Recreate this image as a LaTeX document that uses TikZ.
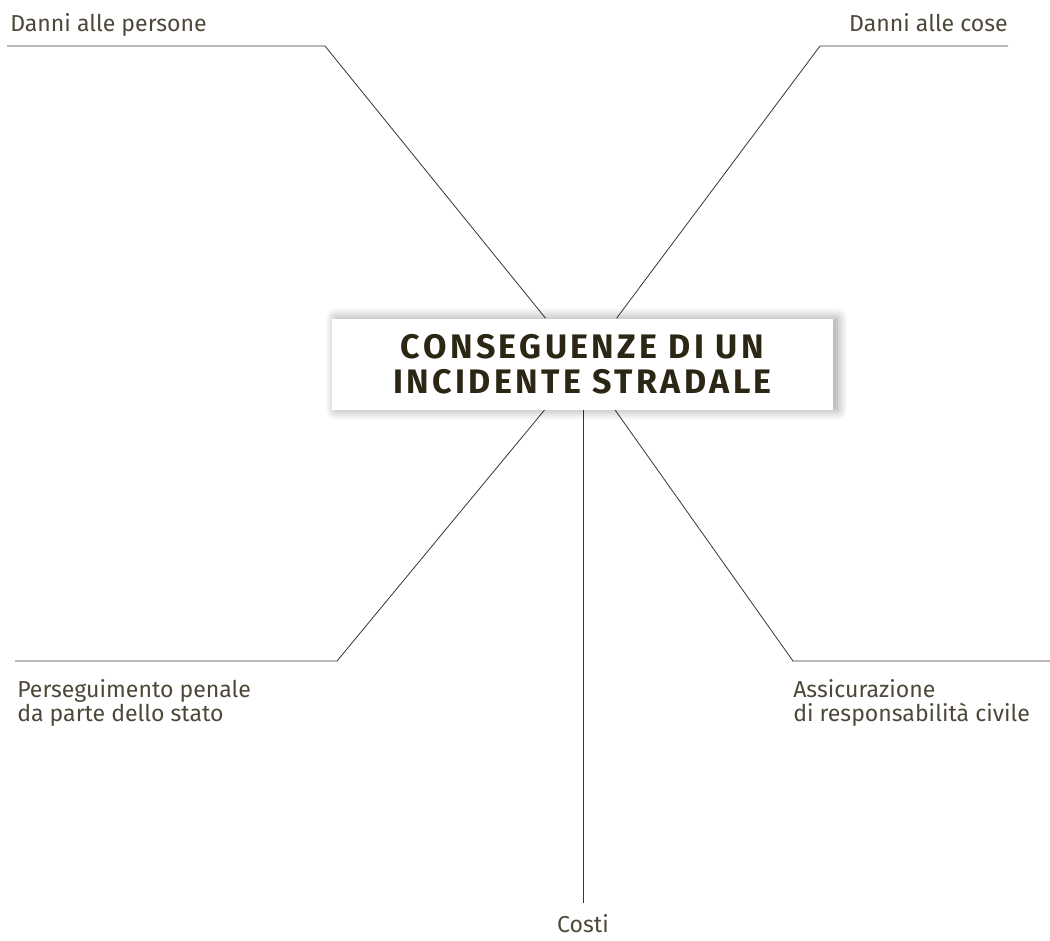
\documentclass[tikz,border=0pt]{standalone}
\usepackage{fontspec}
\setmainfont{Fira Sans}
\newfontfamily\titlefont[LetterSpace=10]{Fira Sans}
\usepackage{tikz}
\usetikzlibrary{shadows.blur,backgrounds}
\definecolor{inkdark}{HTML}{2B2714}
\definecolor{inklabel}{HTML}{4D4839}
\definecolor{inkline}{HTML}{3A3526}

\begin{document}
\begin{tikzpicture}[x=0.75pt, y=-0.75pt,
    branch/.style={draw=inkline, line width=0.6pt},
    leaf/.style={text=inklabel, font=\fontsize{17.3}{18}\selectfont, inner sep=0pt, align=left},
    hub/.style={fill=white, minimum width=375.75pt, minimum height=68.25pt, text=inkdark,
        font=\titlefont\fontsize{25.5}{26.25}\selectfont\bfseries, align=center,
        blur shadow={shadow xshift=3pt, shadow yshift=0pt, shadow blur steps=14, shadow blur radius=8pt, shadow opacity=40}}]
        \useasboundingbox (0,0) rectangle (1050,940);
        \coordinate (p1) at (325,46);
        \coordinate (p2) at (820,46);
        \coordinate (p3) at (337,661);
        \coordinate (p4) at (793,661);
        \coordinate (p5) at (583,903);
        \coordinate (e1) at (7,46);
        \coordinate (e2) at (1008,46);
        \coordinate (e3) at (15,661);
        \coordinate (e4) at (1050,661);
        \node[hub] (title) at (582.5,364) {CONSEGUENZE DI UN\\INCIDENTE STRADALE};
        \node[leaf, anchor=base west] (persone) at (10,31) {Danni alle persone};
        \node[leaf, anchor=base east] (cose) at (1008,31) {Danni alle cose};
        \node[leaf, anchor=north west] (penale) at (17,679) {Perseguimento penale\\da parte dello stato};
        \node[leaf, anchor=north west] (civile) at (793,679) {Assicurazione\\di responsabilità civile};
        \node[leaf, anchor=base] (costi) at (583,932) {Costi};
        \begin{scope}[on background layer]
        \foreach \p/\e in {p1/e1,p2/e2,p3/e3,p4/e4}
        \draw[branch] (title) -- (\p) -- (\e);
        \draw[branch] (title.south -| p5) -- (p5);
        \end{scope}
    \end{tikzpicture}
\end{document}
